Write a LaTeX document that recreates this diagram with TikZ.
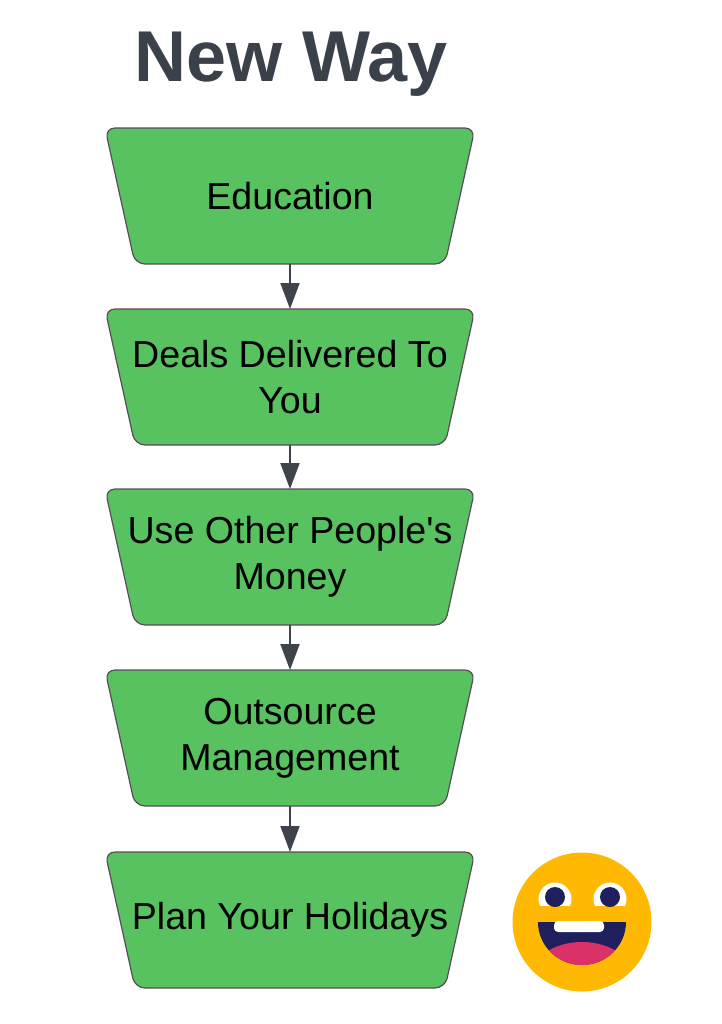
\documentclass[tikz,border=0pt]{standalone}
\usepackage{fontspec}
\setmainfont{Liberation Sans}[Ligatures=TeXOff]
\usetikzlibrary{arrows.meta,backgrounds}

\definecolor{boxgreen}{HTML}{57C25F}
\definecolor{boxedge}{HTML}{5A4A5C}
\definecolor{arrowgray}{HTML}{3E434C}
\definecolor{titlegray}{HTML}{3B414A}
\definecolor{faceyellow}{HTML}{FFB902}
\definecolor{facenavy}{HTML}{1E1F5C}
\definecolor{facepink}{HTML}{DA3168}

\tikzset{
    stage/.style={rectangle, minimum width=185pt, minimum height=68pt,
        inner sep=1pt, outer sep=0pt, align=center,
        font=\fontsize{18.8}{23}\selectfont},
    stagebox/.style={draw=boxedge, line width=0.6pt, fill=boxgreen, rounded corners=5pt},
    flow/.style={draw=arrowgray, line width=1pt, -{Triangle[length=13pt,width=9.5pt]}}
}

\begin{document}
\begin{tikzpicture}[x=0.5pt, y=-0.5pt]
    \useasboundingbox (0,0) rectangle (722,1024);

    \node[text=titlegray, font=\fontsize{36}{40}\bfseries\selectfont] (title) at (291,64) {New Way};

    \node[stage] (edu)   at (290,196) {Education};
    \node[stage] (deals) at (290,377) {Deals Delivered To\\You};
    \node[stage] (opm)   at (290,557) {Use Other People's\\Money};
    \node[stage] (mgmt)  at (290,738) {Outsource\\Management};
    \node[stage] (hol)   at (290,920) {Plan Your Holidays};

    % trapezoid outlines behind the text
    \begin{scope}[on background layer]
        \foreach \n in {edu,deals,opm,mgmt,hol}
            \draw[stagebox] (\n.north west) -- (\n.north east) -- ([xshift=-15pt]\n.south east)
                -- ([xshift=15pt]\n.south west) -- cycle;
    \end{scope}

    \draw[flow] (edu) -- (deals);
    \draw[flow] (deals) -- (opm);
    \draw[flow] (opm) -- (mgmt);
    \draw[flow] (mgmt) -- (hol);

    % smiley
    \fill[faceyellow] (582,922) circle (69.5);
    \foreach \ex in {555,610} {
        \begin{scope}
            \clip (\ex-20,878) rectangle (\ex+20,905);
            \fill[white] (\ex,899) circle (16.5);
        \end{scope}
        \fill[facenavy] (\ex,897) circle (10);
    }
    \fill[facenavy] (538,922) -- (626,922) arc[start angle=0, end angle=180, x radius=44, y radius=43] -- cycle;
    \begin{scope}
        \clip (538,922) -- (626,922) arc[start angle=0, end angle=180, x radius=44, y radius=43] -- cycle;
        \fill[facepink] (582,978) ellipse (52 and 36);
    \end{scope}
    \fill[white, rounded corners=2pt] (554,921) -- (554,932) -- (604,932) -- (604,921) -- cycle;
\end{tikzpicture}
\end{document}
